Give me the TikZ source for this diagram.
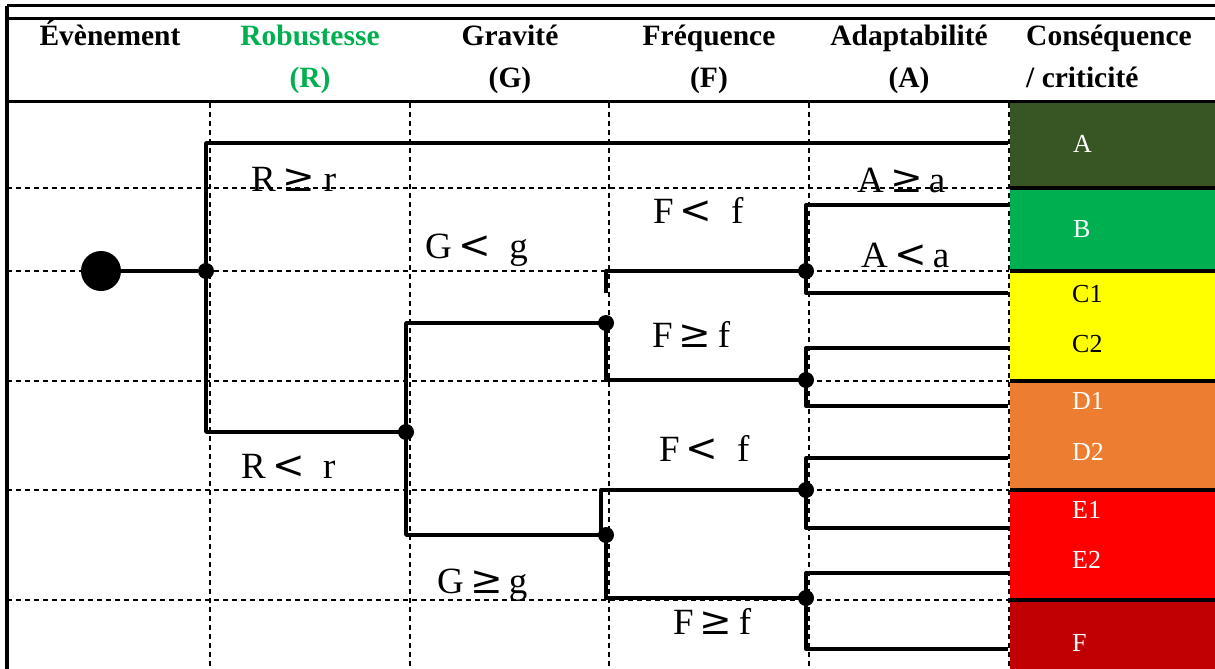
\documentclass[tikz,border=0pt]{standalone}
\usepackage{fontspec}
\setmainfont{Liberation Serif}
\newfontfamily\symb{DejaVu Serif}
\newcommand\supeg{{\symb\fontsize{39}{40}\selectfont ≥}}
\newcommand\infst{{\symb\fontsize{39}{40}\selectfont <}}
\definecolor{vertR}{HTML}{00B050}
\definecolor{critA}{HTML}{375623}
\definecolor{critB}{HTML}{00B050}
\definecolor{critC}{HTML}{FFFF00}
\definecolor{critD}{HTML}{ED7D31}
\definecolor{critE}{HTML}{FF0000}
\definecolor{critF}{HTML}{C00000}
\begin{document}
\begin{tikzpicture}[x=1pt,y=-1pt,line join=round,
	titre/.style={anchor=base,inner sep=0pt,font=\fontsize{29.5}{32}\selectfont\bfseries},
	cond/.style={anchor=base west,inner sep=0pt,font=\fontsize{37}{40}\selectfont},
	crit/.style={anchor=base west,inner sep=0pt,text=white,font=\fontsize{26}{28}\selectfont},
	noeud/.style={circle,fill=black,inner sep=0pt,minimum size=16pt},
	grille/.style={dash pattern=on 5pt off 4pt,line width=2.6pt},
	branche/.style={line width=3.4pt}]
	\useasboundingbox (0,0) rectangle (1215,669);
	% colonne des criticites
	\foreach \y/\b/\c in {101/188/critA,188/271/critB,271/381/critC,381/490/critD,490/600/critE,600/669/critF}
	\fill[\c] (1010,\y) rectangle (1215,\b);
	\foreach \y in {188,271,381,490,600} \draw[line width=4pt] (1010,\y) -- (1215,\y);
	% cadre et en-tete
	\draw[line width=3pt] (7,6) -- (1215,6) (7,19) -- (1215,19) (7,101) -- (1215,101);
	\draw[line width=4pt] (7,6) -- (7,669);
	\node[titre] at (110,46) {Évènement};
	\node[titre,text=vertR] at (310,46) {Robustesse};
	\node[titre,text=vertR] at (310,87) {(R)};
	\node[titre] at (510,46) {Gravité};
	\node[titre] at (510,87) {(G)};
	\node[titre] at (709,46) {Fréquence};
	\node[titre] at (709,87) {(F)};
	\node[titre] at (909,46) {Adaptabilité};
	\node[titre] at (909,87) {(A)};
	\node[titre,anchor=base west] at (1026,46) {Conséquence};
	\node[titre,anchor=base west] at (1026,87) {/ criticité};
	% grille
	\foreach \y in {188,271,381,490,600} \draw[grille] (7,\y) -- (1009,\y);
	\foreach \x in {210,410,609,809,1009} \draw[grille] (\x,103) -- (\x,669);
	% arbre
	\node[circle,fill=black,inner sep=0pt,minimum size=40pt] (ev) at (101,271) {};
	\node[noeud] (r) at (206,271) {};
	\node[noeud] (g) at (406,432) {};
	\node[noeud] (f1) at (606,323) {};
	\node[noeud] (f2) at (606,535) {};
	\node[noeud] (a1) at (806,271) {};
	\node[noeud] (a2) at (806,380) {};
	\node[noeud] (a3) at (806,490) {};
	\node[noeud] (a4) at (806,598) {};
	\coordinate (oA) at (1008,143);
	\draw[branche] (ev) -- (r);
	\draw[branche] (r.center) |- (oA);
	\draw[branche] (r.center) |- (g.center);
	\draw[branche] (g.center) |- (f1.center);
	\draw[branche] (g.center) |- (f2.center);
	\draw[branche] (606,293) |- (a1.center);
	\draw[branche] (f1.center) |- (a2.center);
	\draw[branche] (f2.center) -- ++(-5,0) |- (a3.center);
	\draw[branche] (f2.center) |- (a4.center);
	\foreach \n/\h/\b in {a1/205/293,a2/348/406,a3/458/528,a4/573/649}{
		\coordinate (\n h) at (1008,\h);
		\coordinate (\n b) at (1008,\b);
		\draw[branche] (\n h) -| (\n.center) |- (\n b);
	}
	% conditions
	\node[cond] at (251,191) {R\,\supeg{} r};
	\node[cond] at (241,478) {R\,\infst{} ~r};
	\node[cond] at (425,258) {G\,\infst{} ~g};
	\node[cond] at (437,593) {G\,\supeg\,g};
	\node[cond] at (653,223) {F\,\infst{} ~f};
	\node[cond] at (652,347) {F\,\supeg\,f};
	\node[cond] at (659,461) {F\,\infst{} ~f};
	\node[cond] at (673,634) {F\,\supeg\,f};
	\node[cond] at (857,192) {A\,\supeg\,a};
	\node[cond] at (861,267) {A\,\infst\,a};
	% criticites
	\node[crit] at (1073,152) {A};
	\node[crit] at (1073,237) {B};
	\node[crit,text=black] at (1072,302) {C1};
	\node[crit,text=black] at (1072,352) {C2};
	\node[crit] at (1072,409) {D1};
	\node[crit] at (1072,460) {D2};
	\node[crit] at (1072,518) {E1};
	\node[crit] at (1072,568) {E2};
	\node[crit] at (1072,651) {F};
\end{tikzpicture}
\end{document}
